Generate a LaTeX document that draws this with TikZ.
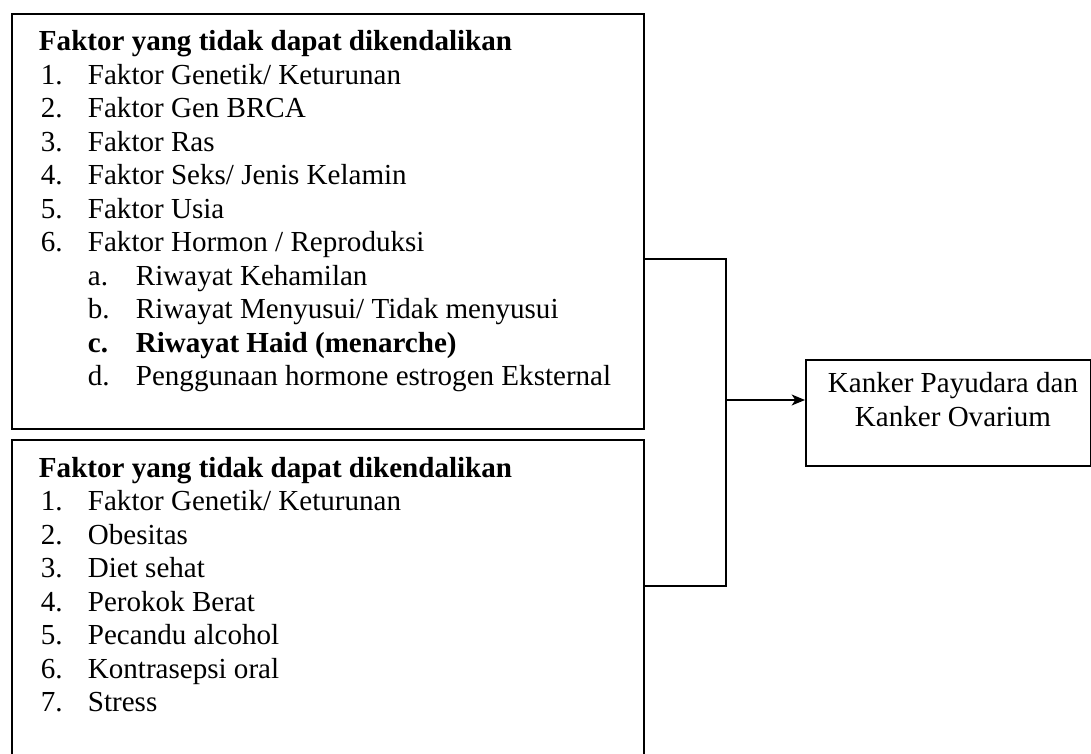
\documentclass[tikz,border=0pt]{standalone}
\usepackage{fontspec}
\setmainfont{Liberation Serif}
\usetikzlibrary{arrows.meta}
\begin{document}
\begin{tikzpicture}[x=0.413pt, y=-0.413pt, >={Stealth[length=5.5pt, width=4.5pt, inset=1.5pt]}, line width=0.8pt, font=\fontsize{12}{13.84}\selectfont]
	\tikzset{box/.style={draw, inner sep=0pt, anchor=north west},
		baris/.style={anchor=base west, inner sep=0pt}}
	\clip (0,0) rectangle (1091,754);
	% kotak
	\node[box, minimum width=261pt, minimum height=171.4pt] (faktorA) at (11,13) {};
	\node[box, minimum width=261pt, minimum height=140pt] (faktorB) at (11,439) {};
	\node[box, minimum width=117.7pt, minimum height=43.8pt] (kanker) at (805,359) {};
	% isi kotak atas
	\node[baris] (judulA) at (38,51) {\bfseries Faktor yang tidak dapat dikendalikan};
	\foreach \t [count=\i] in {Faktor Genetik/ Keturunan, Faktor Gen BRCA, Faktor Ras,
		Faktor Seks/ Jenis Kelamin, Faktor Usia, Faktor Hormon / Reproduksi}
		\node[baris] (a\i) at (40,51+33.5*\i) {\makebox[19.4pt][l]{\i.}\t};
	\node[baris] (sa) at (87,51+33.5*7) {\makebox[19.8pt][l]{a.}Riwayat Kehamilan};
	\node[baris] (sb) at (87,51+33.5*8) {\makebox[19.8pt][l]{b.}Riwayat Menyusui/ Tidak menyusui};
	\node[baris] (sc) at (87,51+33.5*9) {\bfseries\makebox[19.8pt][l]{c.}Riwayat Haid (menarche)};
	\node[baris] (sd) at (87,51+33.5*10) {\makebox[19.8pt][l]{d.}Penggunaan hormone estrogen Eksternal};
	% isi kotak bawah
	\node[baris] (judulB) at (38,477) {\bfseries Faktor yang tidak dapat dikendalikan};
	\foreach \t [count=\i] in {Faktor Genetik/ Keturunan, Obesitas, Diet sehat, Perokok Berat,
		Pecandu alcohol, Kontrasepsi oral, Stress}
		\node[baris] (b\i) at (40,477+33.5*\i) {\makebox[19.4pt][l]{\i.}\t};
	% hasil
	\node[baris, anchor=base] (k1) at (953,393) {Kanker Payudara dan};
	\node[baris, anchor=base] (k2) at (953,427) {Kanker Ovarium};
	% penghubung
	\coordinate (atas) at (726,259);
	\coordinate (bawah) at (726,586);
	\coordinate (tengah) at (726,400);
	\draw (faktorA.east |- atas) -- (atas) -- (bawah) -- (faktorB.east |- bawah);
	\draw[->] (tengah) -- (kanker.west |- tengah);
\end{tikzpicture}
\end{document}
